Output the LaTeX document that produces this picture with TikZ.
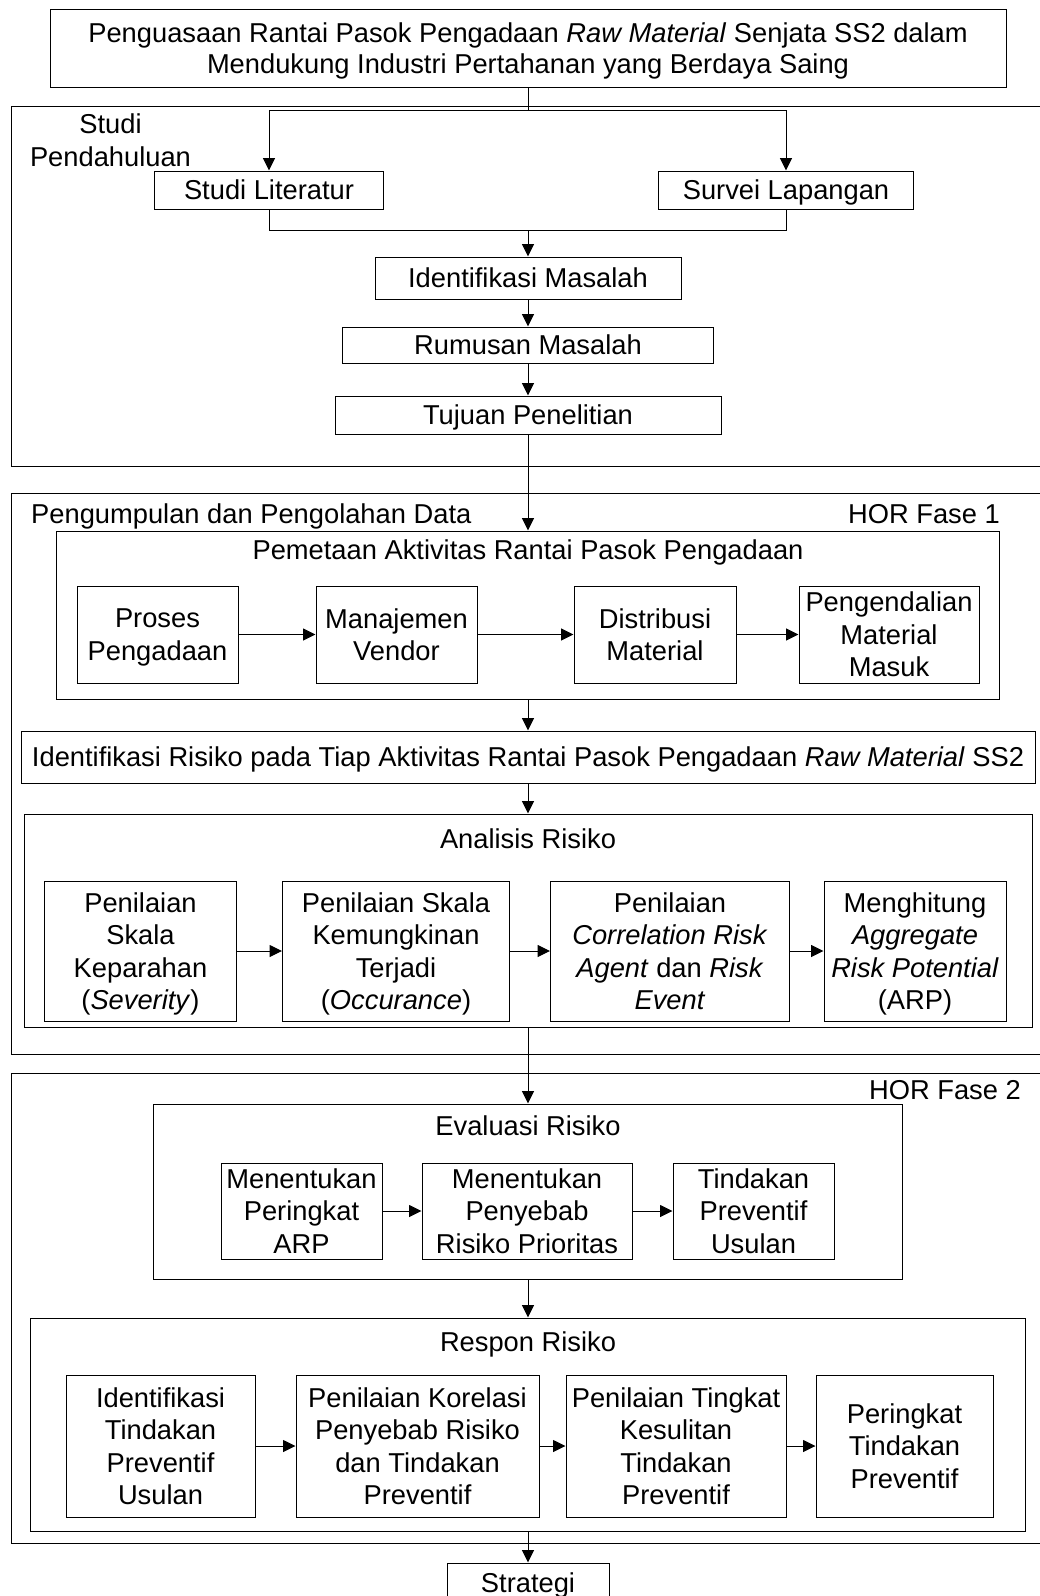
\documentclass[tikz,border=0pt]{standalone}
\usepackage{fontspec}
\setmainfont{Liberation Sans}
\usetikzlibrary{arrows.meta, positioning, calc}

\begin{document}
\begin{tikzpicture}[
    x=1pt, y=-1pt,
    font=\fontsize{27.3}{32.5}\selectfont,
    box/.style={rectangle, draw=black, line width=1pt, align=center, inner sep=0pt, text depth=0pt},
    frame/.style={draw=black, line width=1pt},
    label/.style={inner sep=0pt},
    line/.style={line width=1pt},
    arr/.style={line width=1pt, -{Triangle[length=12.5pt, width=12pt]}},
]
\clip (0,0) rectangle (1040,1596);

% Judul penelitian
\node[box, minimum width=956pt, minimum height=78pt, font=\fontsize{27.3}{31}\selectfont] (judul) at (528,48)
    {Penguasaan Rantai Pasok Pengadaan \textit{Raw Material} Senjata SS2 dalam\\Mendukung Industri Pertahanan yang Berdaya Saing};

% Studi pendahuluan
\draw[frame] (11,106) rectangle (1060,466);
\node[label, align=center] (studi) at (110.5,140) {Studi\\Pendahuluan};
\node[box, minimum width=229pt, minimum height=38pt] (literatur) at (269,190) {Studi Literatur};
\node[box, minimum width=255pt, minimum height=38pt] (survei) at (786,190) {Survei Lapangan};
\node[box, minimum width=306pt, minimum height=42pt] (idmasalah) at (528,278) {Identifikasi Masalah};
\node[box, minimum width=371pt, minimum height=36pt] (rumusan) at (528,345) {Rumusan Masalah};
\node[box, minimum width=386pt, minimum height=38pt] (tujuan) at (528,415) {Tujuan Penelitian};

\coordinate (cabang) at (528,110);
\coordinate (gabung) at (528,230);
\draw[line] (judul.south) -- (cabang);
\draw[arr] (cabang) -| (literatur.north);
\draw[arr] (cabang) -| (survei.north);
\draw[line] (literatur.south) |- (gabung);
\draw[line] (survei.south) |- (gabung);
\draw[arr] (gabung) -- (idmasalah.north);
\draw[arr] (idmasalah) -- (rumusan);
\draw[arr] (rumusan) -- (tujuan);

% HOR fase 1
\draw[frame] (11,493) rectangle (1060,1054);
\node[label, anchor=base west] (kumpul) at (31,523) {Pengumpulan dan Pengolahan Data};
\node[label, anchor=base east] (fase1) at (1000,523) {HOR Fase 1};

\node[box, minimum width=943pt, minimum height=168pt] (pemetaan) at (528,615) {};
\node[label, anchor=base] (pemetaanjudul) at (528,559.5) {Pemetaan Aktivitas Rantai Pasok Pengadaan};
\node[box, minimum width=161pt, minimum height=97pt] (proses) at (157.5,634.5) {Proses\\Pengadaan};
\node[box, minimum width=161pt, minimum height=97pt] (vendor) at (396.5,634.5) {Manajemen\\Vendor};
\node[box, minimum width=162pt, minimum height=97pt] (distribusi) at (655,634.5) {Distribusi\\Material};
\node[box, minimum width=180pt, minimum height=97pt] (kendali) at (889,634.5) {Pengendalian\\Material\\Masuk};
\draw[arr] (proses) -- (vendor);
\draw[arr] (vendor) -- (distribusi);
\draw[arr] (distribusi) -- (kendali);

\node[box, minimum width=1014pt, minimum height=52pt] (idrisiko) at (528,757)
    {Identifikasi Risiko pada Tiap Aktivitas Rantai Pasok Pengadaan \textit{Raw Material} SS2};

\node[box, minimum width=1008pt, minimum height=213pt] (analisis) at (528,920.5) {};
\node[label, anchor=base] (analisisjudul) at (528,848.5) {Analisis Risiko};
\node[box, minimum width=192pt, minimum height=140pt] (severity) at (140.5,951) {Penilaian\\Skala\\Keparahan\\(\textit{Severity})};
\node[box, minimum width=227pt, minimum height=140pt] (occurance) at (396,951) {Penilaian Skala\\Kemungkinan\\Terjadi\\(\textit{Occurance})};
\node[box, minimum width=239pt, minimum height=140pt] (korelasi) at (670,951) {Penilaian\\\textit{Correlation Risk}\\\textit{Agent} dan \textit{Risk}\\\textit{Event}};
\node[box, minimum width=182pt, minimum height=140pt] (arp) at (915,951) {Menghitung\\\textit{Aggregate}\\\textit{Risk Potential}\\(ARP)};
\draw[arr] (severity) -- (occurance);
\draw[arr] (occurance) -- (korelasi);
\draw[arr] (korelasi) -- (arp);

\draw[arr] (tujuan) -- (pemetaan);
\draw[arr] (pemetaan) -- (idrisiko);
\draw[arr] (idrisiko) -- (analisis);

% HOR fase 2
\draw[frame] (11,1073) rectangle (1060,1543);
\node[label, anchor=base east] (fase2) at (1021,1099.5) {HOR Fase 2};

\node[box, minimum width=749pt, minimum height=175pt] (evaluasi) at (528,1191.5) {};
\node[label, anchor=base] (evaluasijudul) at (528,1135.5) {Evaluasi Risiko};
\node[box, minimum width=161pt, minimum height=96pt] (peringkatarp) at (301.5,1211) {Menentukan\\Peringkat\\ARP};
\node[box, minimum width=210pt, minimum height=96pt] (penyebab) at (527,1211) {Menentukan\\Penyebab\\Risiko Prioritas};
\node[box, minimum width=161pt, minimum height=96pt] (usulan) at (753.5,1211) {Tindakan\\Preventif\\Usulan};
\draw[arr] (peringkatarp) -- (penyebab);
\draw[arr] (penyebab) -- (usulan);

\node[box, minimum width=995pt, minimum height=213pt] (respon) at (528,1424.5) {};
\node[label, anchor=base] (responjudul) at (528,1351.5) {Respon Risiko};
\node[box, minimum width=189pt, minimum height=142pt] (idtindakan) at (160.5,1446) {Identifikasi\\Tindakan\\Preventif\\Usulan};
\node[box, minimum width=243pt, minimum height=142pt] (korelasitindakan) at (417.5,1446) {Penilaian Korelasi\\Penyebab Risiko\\dan Tindakan\\Preventif};
\node[box, minimum width=220pt, minimum height=142pt] (kesulitan) at (676,1446) {Penilaian Tingkat\\Kesulitan\\Tindakan\\Preventif};
\node[box, minimum width=177pt, minimum height=142pt] (peringkattindakan) at (904.5,1446) {Peringkat\\Tindakan\\Preventif};
\draw[arr] (idtindakan) -- (korelasitindakan);
\draw[arr] (korelasitindakan) -- (kesulitan);
\draw[arr] (kesulitan) -- (peringkattindakan);

\draw[arr] (analisis) -- (evaluasi);
\draw[arr] (evaluasi) -- (respon);

% Strategi
\node[box, minimum width=162pt, minimum height=40pt] (strategi) at (528,1583) {Strategi};
\draw[arr] (respon) -- (strategi);

\end{tikzpicture}
\end{document}
